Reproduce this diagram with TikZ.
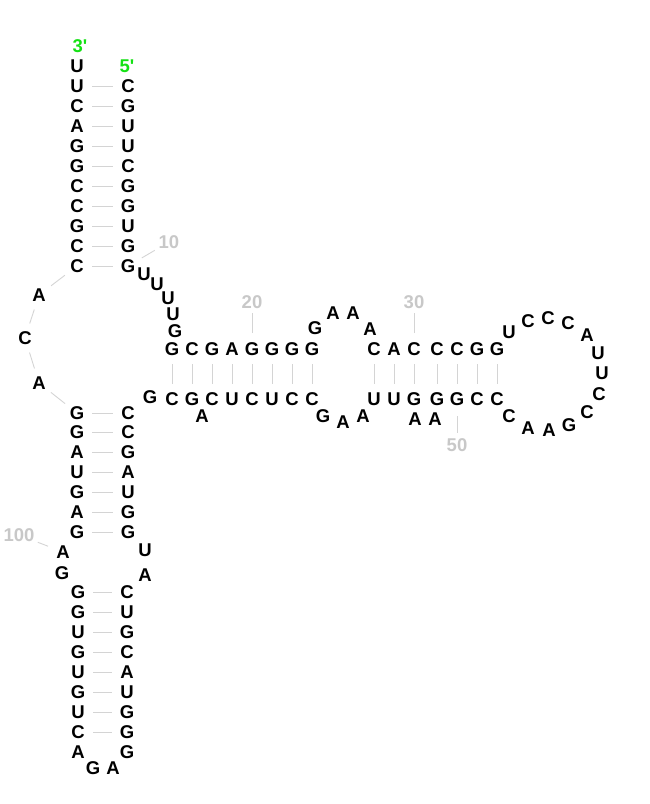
\documentclass[tikz,border=0pt]{standalone}
\usepackage{fontspec}
\setmainfont{Liberation Sans}
\usetikzlibrary{calc}
\definecolor{endgreen}{RGB}{20,225,20}
\definecolor{numgray}{RGB}{200,200,200}
\definecolor{linegray}{RGB}{212,212,212}
\begin{document}
\begin{tikzpicture}[x=1bp,y=-1bp]
    % Define styles for bases, numbers and lines
    \tikzstyle{base}=[circle, inner sep=0pt, minimum size=30bp, font=\fontsize{18.5bp}{18.5bp}\selectfont\bfseries]
    \tikzstyle{num}=[inner sep=0pt, text=numgray, font=\fontsize{18.5bp}{18.5bp}\selectfont\bfseries]
    \tikzstyle{ends}=[inner sep=0pt, text=endgreen, font=\fontsize{18.5bp}{18.5bp}\selectfont\bfseries]
    \tikzstyle{pair}=[draw=linegray, line width=0.9bp]
    \tikzstyle{tick}=[draw=linegray, line width=0.9bp]

    \useasboundingbox (0,0) rectangle (650,804);

    % Ends
    \node[ends] (e3) at (80,46) {3\textquotesingle};
    \node[ends] (e5) at (127,66) {5\textquotesingle};

    % Top stem, 5' side (1-10)
    \node[base] (n1) at (128,86) {C};
    \node[base] (n2) at (128,106) {G};
    \node[base] (n3) at (128,126) {U};
    \node[base] (n4) at (128,146) {U};
    \node[base] (n5) at (128,166) {C};
    \node[base] (n6) at (128,186) {G};
    \node[base] (n7) at (128,206) {G};
    \node[base] (n8) at (128,226) {U};
    \node[base] (n9) at (128,246) {G};
    \node[base] (n10) at (128,266) {G};

    % Linker (11-15)
    \node[base] (n11) at (144,274) {U};
    \node[base] (n12) at (157,284) {U};
    \node[base] (n13) at (168,298) {U};
    \node[base] (n14) at (173,314) {U};
    \node[base] (n15) at (175,331) {G};

    % Long helix, upper strand (16-23)
    \node[base] (n16) at (172,349) {G};
    \node[base] (n17) at (192,349) {C};
    \node[base] (n18) at (212,349) {G};
    \node[base] (n19) at (232,349) {A};
    \node[base] (n20) at (252,349) {G};
    \node[base] (n21) at (272,349) {G};
    \node[base] (n22) at (292,349) {G};
    \node[base] (n23) at (312,349) {G};

    % Inner loop, top (24-27)
    \node[base] (n24) at (315,328) {G};
    \node[base] (n25) at (333,313) {A};
    \node[base] (n26) at (353,313) {A};
    \node[base] (n27) at (370,329) {A};

    % Right helix, upper strand (28-34)
    \node[base] (n28) at (374,349) {C};
    \node[base] (n29) at (394,349) {A};
    \node[base] (n30) at (414,349) {C};
    \node[base] (n31) at (437,349) {C};
    \node[base] (n32) at (457,349) {C};
    \node[base] (n33) at (477,349) {G};
    \node[base] (n34) at (497,349) {G};

    % Hairpin loop (35-47)
    \node[base] (n35) at (509,332) {U};
    \node[base] (n36) at (528,321) {C};
    \node[base] (n37) at (548,318) {C};
    \node[base] (n38) at (568,323) {C};
    \node[base] (n39) at (587,335) {A};
    \node[base] (n40) at (598,353) {U};
    \node[base] (n41) at (602,373) {U};
    \node[base] (n42) at (599,394) {C};
    \node[base] (n43) at (587,412) {C};
    \node[base] (n44) at (569,425) {G};
    \node[base] (n45) at (549,430) {A};
    \node[base] (n46) at (528,428) {A};
    \node[base] (n47) at (509,416) {C};

    % Right helix, lower strand (48-56)
    \node[base] (n48) at (497,399) {C};
    \node[base] (n49) at (477,399) {C};
    \node[base] (n50) at (457,399) {G};
    \node[base] (n51) at (437,399) {G};
    \node[base] (n52) at (435,419) {A};
    \node[base] (n53) at (415,419) {A};
    \node[base] (n54) at (414,399) {G};
    \node[base] (n55) at (394,399) {U};
    \node[base] (n56) at (374,399) {U};

    % Inner loop, bottom (57-59)
    \node[base] (n57) at (363,416) {A};
    \node[base] (n58) at (343,422) {A};
    \node[base] (n59) at (323,416) {G};

    % Long helix, lower strand (60-69)
    \node[base] (n60) at (312,399) {C};
    \node[base] (n61) at (292,399) {C};
    \node[base] (n62) at (272,399) {U};
    \node[base] (n63) at (252,399) {C};
    \node[base] (n64) at (232,399) {U};
    \node[base] (n65) at (212,399) {C};
    \node[base] (n66) at (202,416) {A};
    \node[base] (n67) at (192,399) {G};
    \node[base] (n68) at (172,399) {C};
    \node[base] (n69) at (150,397) {G};

    % Lower stem, right side (70-78)
    \node[base] (n70) at (128,413) {C};
    \node[base] (n71) at (128,432) {C};
    \node[base] (n72) at (128,452) {G};
    \node[base] (n73) at (128,472) {A};
    \node[base] (n74) at (128,492) {U};
    \node[base] (n75) at (128,512) {G};
    \node[base] (n76) at (128,532) {G};
    \node[base] (n77) at (145,550) {U};
    \node[base] (n78) at (145,575) {A};

    % Bottom stem and loop (79-98)
    \node[base] (n79) at (127,592) {C};
    \node[base] (n80) at (127,612) {U};
    \node[base] (n81) at (127,632) {G};
    \node[base] (n82) at (127,652) {C};
    \node[base] (n83) at (127,672) {A};
    \node[base] (n84) at (127,692) {U};
    \node[base] (n85) at (127,712) {G};
    \node[base] (n86) at (127,732) {G};
    \node[base] (n87) at (127,752) {G};
    \node[base] (n88) at (113,768) {A};
    \node[base] (n89) at (93,768) {G};
    \node[base] (n90) at (78,752) {A};
    \node[base] (n91) at (78,732) {C};
    \node[base] (n92) at (78,712) {U};
    \node[base] (n93) at (78,692) {G};
    \node[base] (n94) at (78,672) {U};
    \node[base] (n95) at (78,652) {G};
    \node[base] (n96) at (78,632) {U};
    \node[base] (n97) at (78,612) {G};
    \node[base] (n98) at (78,592) {G};

    % Lower stem, left side (99-107)
    \node[base] (n99) at (62,573) {G};
    \node[base] (n100) at (63,552) {A};
    \node[base] (n101) at (77,532) {G};
    \node[base] (n102) at (77,512) {A};
    \node[base] (n103) at (77,492) {G};
    \node[base] (n104) at (77,472) {U};
    \node[base] (n105) at (77,452) {A};
    \node[base] (n106) at (77,432) {G};
    \node[base] (n107) at (77,413) {G};

    % Left loop (108-110)
    \node[base] (n108) at (39,383) {A};
    \node[base] (n109) at (25,338) {C};
    \node[base] (n110) at (39,295) {A};

    % Top stem, 3' side (111-121)
    \node[base] (n111) at (77,266) {C};
    \node[base] (n112) at (77,246) {C};
    \node[base] (n113) at (77,226) {G};
    \node[base] (n114) at (77,206) {C};
    \node[base] (n115) at (77,186) {C};
    \node[base] (n116) at (77,166) {G};
    \node[base] (n117) at (77,146) {G};
    \node[base] (n118) at (77,126) {A};
    \node[base] (n119) at (77,106) {C};
    \node[base] (n120) at (77,86) {U};
    \node[base] (n121) at (77,66) {U};

    % Numbers
    \node[num] (l10) at (169,242) {10};
    \node[num] (l20) at (252,302) {20};
    \node[num] (l30) at (414,302) {30};
    \node[num] (l50) at (457,445) {50};
    \node[num] (l100) at (19,535) {100};
    \draw[tick] ($(n10)!16bp!(l10)$) -- ($(n10)!31bp!(l10)$);
    \draw[tick] ($(n20)!16bp!(l20)$) -- ($(n20)!36bp!(l20)$);
    \draw[tick] ($(n30)!16bp!(l30)$) -- ($(n30)!36bp!(l30)$);
    \draw[tick] ($(n50)!17bp!(l50)$) -- ($(n50)!34bp!(l50)$);
    \draw[tick] ($(n100)!16bp!(l100)$) -- ($(n100)!27bp!(l100)$);

    % Base pairs
    \draw[pair] (n1) -- (n120) (n2) -- (n119) (n3) -- (n118) (n4) -- (n117) (n5) -- (n116)
                (n6) -- (n115) (n7) -- (n114) (n8) -- (n113) (n9) -- (n112) (n10) -- (n111);
    \draw[pair] (n16) -- (n68) (n17) -- (n67) (n18) -- (n65) (n19) -- (n64)
                (n20) -- (n63) (n21) -- (n62) (n22) -- (n61) (n23) -- (n60);
    \draw[pair] (n28) -- (n56) (n29) -- (n55) (n30) -- (n54) (n31) -- (n51)
                (n32) -- (n50) (n33) -- (n49) (n34) -- (n48);
    \draw[pair] (n70) -- (n107) (n71) -- (n106) (n72) -- (n105) (n73) -- (n104)
                (n74) -- (n103) (n75) -- (n102) (n76) -- (n101);
    \draw[pair] (n79) -- (n98) (n80) -- (n97) (n81) -- (n96) (n82) -- (n95)
                (n83) -- (n94) (n84) -- (n93) (n85) -- (n92) (n86) -- (n91);

    % Backbone in the left loop
    \draw[pair] (n107) -- (n108) -- (n109) -- (n110) -- (n111);
\end{tikzpicture}
\end{document}
